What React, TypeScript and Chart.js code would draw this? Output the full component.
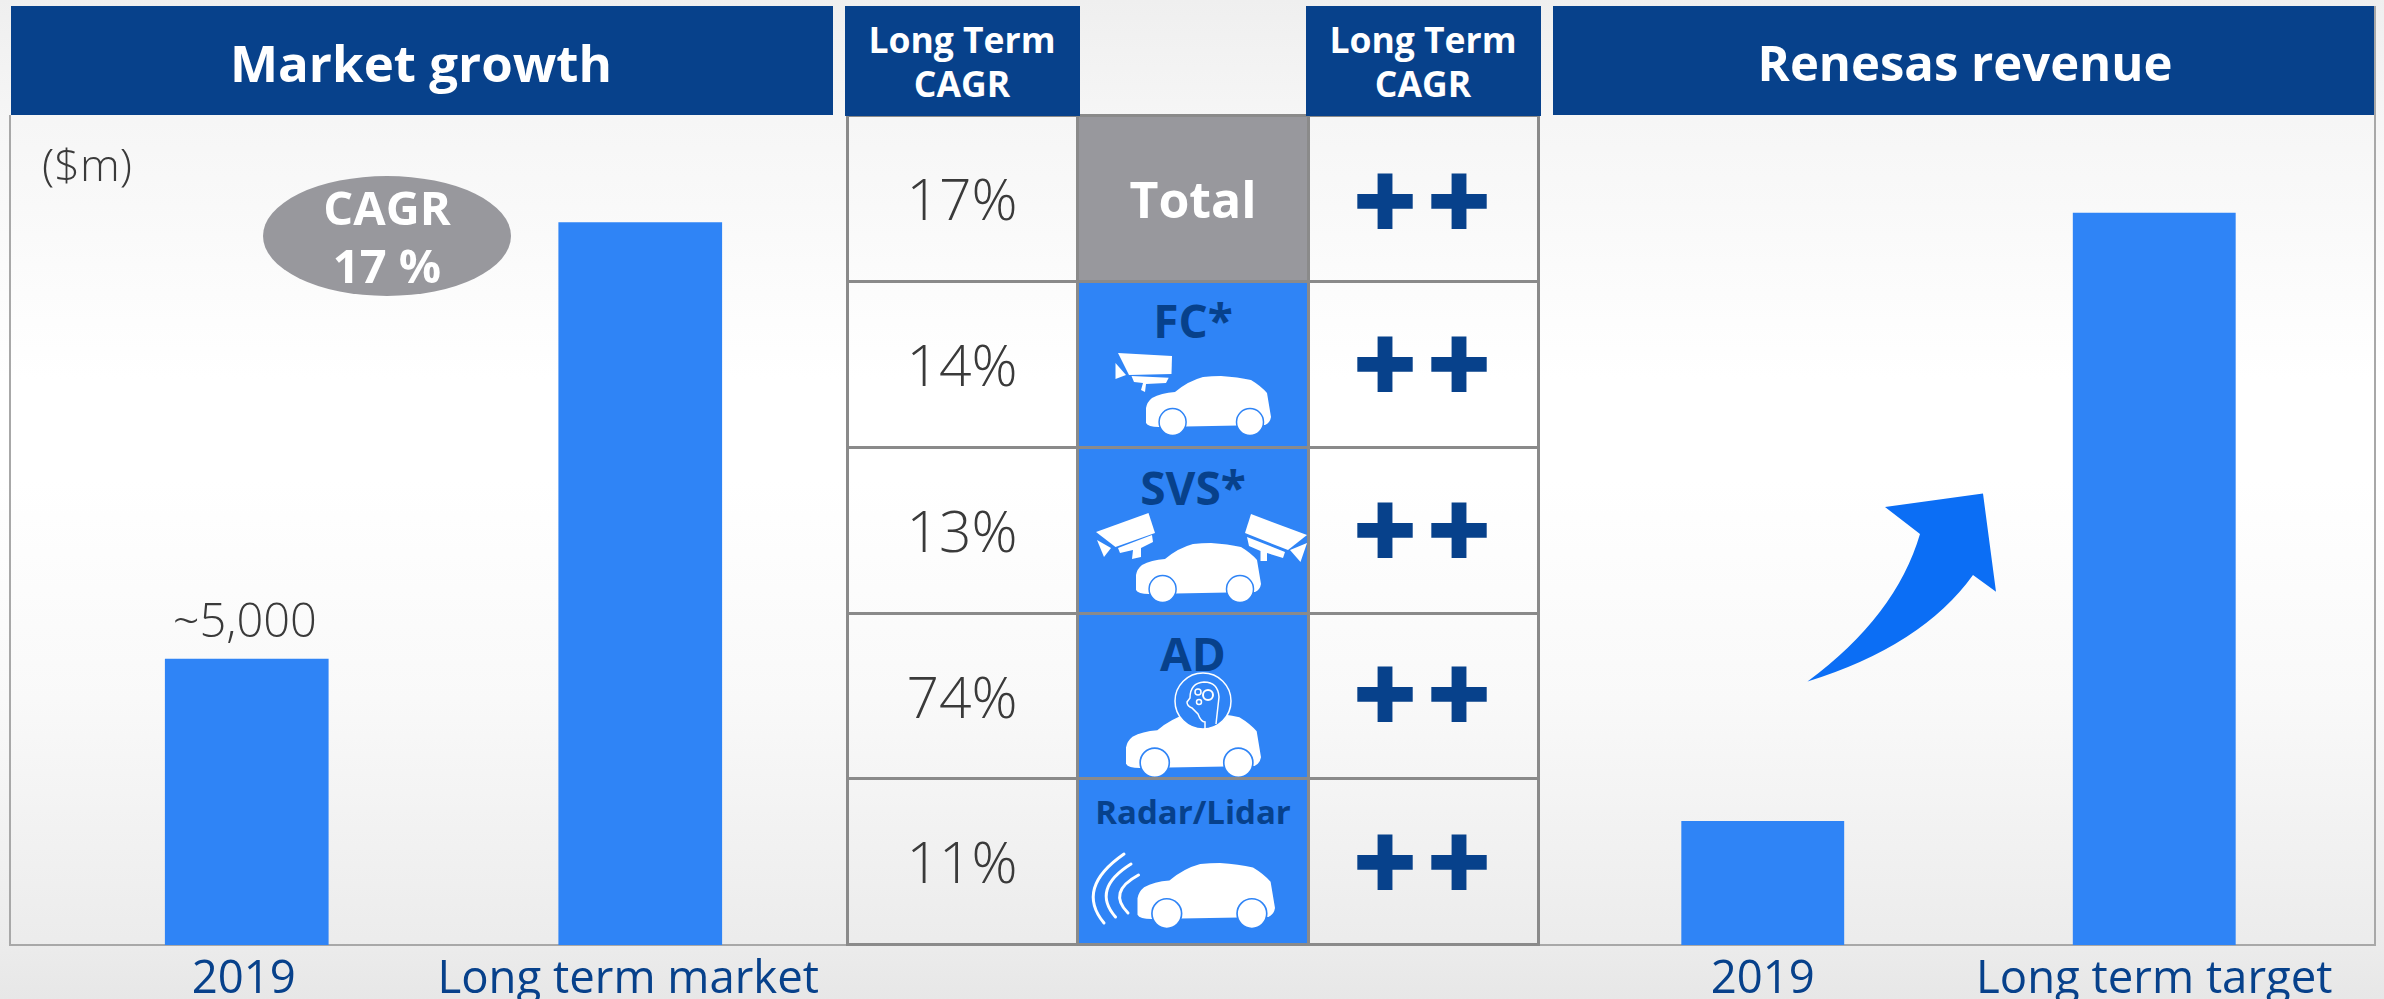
import React, { useEffect, useRef } from "react";
import { Chart, registerables } from "chart.js";

Chart.register(...registerables);

const marketCategories = ["2019", "Long term market"];
const marketValues = [5000, 12620];
const marketValueLabels = ["~5,000", ""];
const revenueCategories = ["2019", "Long term target"];
const revenueValues = [100, 590];
const marketCagr = ["17%", "14%", "13%", "74%", "11%"];
const segmentNames = ["Total", "FC*", "SVS*", "AD", "Radar/Lidar"];
const renesasMark = ["++", "++", "++", "++", "++"];

const NAVY = "#07418b";
const BLUE = "#2f84f6";
const GREY = "#98989d";
const LINE = "#8a8a8a";
const FONT = '"Open Sans", "Noto Sans", sans-serif';
const INK = "#3a3a3a";

const rowY = [115, 281, 447, 613, 778, 944];
const colX = [847, 1077, 1308, 1538];
const plusY = [203, 366, 532, 696, 864];

function BarChart({ left, width, labels, values, max, dataLabels, labelShift }: any) {
  const ref = useRef<HTMLCanvasElement>(null);
  useEffect(() => {
    const chart = new Chart(ref.current!, {
      type: "bar",
      data: {
        labels,
        datasets: [
          { data: values, backgroundColor: BLUE, barPercentage: 0.416, categoryPercentage: 1, borderWidth: 0 },
        ],
      },
      options: {
        animation: false,
        responsive: false,
        layout: { padding: 0 },
        plugins: { legend: { display: false }, tooltip: { enabled: false } },
        scales: {
          x: {
            grid: { display: false },
            border: { display: false },
            afterFit: (s: any) => { s.height = 54; },
            ticks: {
              autoSkip: false, maxRotation: 0, minRotation: 0, padding: 0, color: NAVY,
              font: { family: FONT, size: 45.5, weight: "400" },
            },
          },
          y: { display: false, min: 0, max },
        },
      },
      plugins: [
        {
          id: "labelNudge",
          beforeDraw(c: any) {
            if (!labelShift) return;
            c.scales.x.getLabelItems().forEach((item: any, i: number) => {
              const t = item.options.translation;
              if (!item.__moved) {
                item.options.translation = [t[0] + labelShift[i], t[1]];
                item.__moved = true;
              }
            });
          },
        },
        {
          id: "valueLabels",
          afterDatasetsDraw(c: any) {
            if (!dataLabels) return;
            const ctx = c.ctx;
            const meta = c.getDatasetMeta(0);
            ctx.save();
            ctx.fillStyle = INK;
            ctx.font = `350 47px ${FONT}`;
            ctx.textAlign = "center";
            ctx.textBaseline = "alphabetic";
            meta.data.forEach((bar: any, i: number) => {
              if (dataLabels[i]) ctx.fillText(dataLabels[i], bar.x - 2, bar.y - 22);
            });
            ctx.restore();
          },
        },
      ],
    } as any);
    return () => chart.destroy();
  }, []);
  return <canvas ref={ref} width={width} height={883} style={{ position: "absolute", left, top: 116, width, height: 883 }} />;
}

function T({ x, y, size, weight = 400, color = INK, children, spacing }: any) {
  return (
    <div
      style={{
        position: "absolute", left: x, top: y, transform: "translate(-50%,-50%)", fontFamily: FONT,
        fontSize: size, fontWeight: weight, color, lineHeight: 1, whiteSpace: "nowrap", letterSpacing: spacing,
      }}
    >
      {children}
    </div>
  );
}

function Box({ x, y, w, h, bg }: any) {
  return <div style={{ position: "absolute", left: x, top: y, width: w, height: h, background: bg }} />;
}

const carPath =
  "M0 47 L0 32 Q1 26 6 22 Q15 17 29 16 Q42 5 57 1 Q66 0 75 0 Q92 1 105 4 Q115 10 121 17 L125 41 Q124 47 119 49 L13 51 Q2 51 0 47 Z";

function Car({ x, y, s = 1 }: any) {
  return (
    <g transform={`translate(${x} ${y}) scale(${s})`}>
      <path d={carPath} fill="#fff" />
      <circle cx={26.6} cy={46} r={13.5} fill="#fff" stroke={BLUE} strokeWidth={1.5} />
      <circle cx={104} cy={46} r={13.5} fill="#fff" stroke={BLUE} strokeWidth={1.5} />
    </g>
  );
}

function Poly({ p }: any) {
  return <polygon points={p} fill="#fff" />;
}

function Icons() {
  return (
    <svg width={2384} height={999} style={{ position: "absolute", left: 0, top: 0 }}>
      <Poly p="1118,353 1172,356 1171.5,374 1129,375" />
      <Poly p="1115.5,363 1126,375 1115.5,379" />
      <Poly p="1131.5,376 1168.7,377.7 1166,383 1146,384 1145,392 1141,390 1143,383 1134,382" />
      <Car x={1146} y={376} />

      <Poly p="1096,532 1148.5,513 1155,533 1115.5,547" />
      <Poly p="1097,540 1111,548 1104,557" />
      <Poly p="1118,548 1152,535 1153,542 1141,548 1141,557 1132,559 1133,550 1120,553" />
      <Poly p="1251,514 1307,535 1288,550 1245,533" />
      <Poly p="1307,543 1290,550 1300.5,562" />
      <Poly p="1247,537 1285,552 1283,558 1267,553 1267,561 1260.5,561 1260.5,551 1249,546" />
      <Car x={1136} y={543} />

      <Car x={1126} y={713} s={1.08} />
      <ellipse cx={1203} cy={701} rx={28} ry={28} fill={BLUE} stroke="#fff" strokeWidth={1.5} />
      <path
        d="M1205 729 L1205 722 Q1201 722 1198 714 L1192 708 Q1187 706 1187 702 L1190 698 Q1190 683 1204 682 Q1218 682 1219 697 L1216 724"
        fill="none" stroke="#fff" strokeWidth={1.5}
      />
      <circle cx={1208} cy={695} r={5} fill="none" stroke="#fff" strokeWidth={2} />
      <circle cx={1198} cy={692} r={3} fill="none" stroke="#fff" strokeWidth={1.5} />
      <circle cx={1199} cy={702} r={2.5} fill="none" stroke="#fff" strokeWidth={1.5} />

      <Car x={1137.5} y={863} s={1.1} />
      <g fill="none" stroke="#fff" strokeWidth={3} strokeLinecap="round">
        <path d="M1124 854 Q1075 888 1104 923" />
        <path d="M1131 864 Q1091 889 1115.5 917" />
        <path d="M1138.5 875 Q1107 892 1128 913" />
      </g>

      <path
        d="M1807.5 681.5 Q1896 616 1920 534 L1885 507 L1983 493.6 L1996 591.7 L1973 575 Q1922 646 1807.5 681.5 Z"
        fill="#0b6ef5"
      />
    </svg>
  );
}

export default function App() {
  return (
    <div
      style={{
        position: "fixed", left: 0, top: 0, width: 2384, height: 999, overflow: "hidden",
        background:
          "linear-gradient(180deg,#efefef 0%,#f6f6f6 12%,#ffffff 38%,#ffffff 48%,#f9f9f9 70%,#ececec 94%,#e7e7e7 100%)",
      }}
    >
      {/* panel frame */}
      <Box x={9} y={115} w={2} h={831} bg="#a8a8a8" />
      <Box x={2374} y={6} w={2} h={940} bg="#a8a8a8" />
      <Box x={9} y={944} w={2367} h={2} bg="#a8a8a8" />

      {/* centre table fills */}
      <Box x={colX[1]} y={rowY[0]} w={colX[2] - colX[1]} h={rowY[1] - rowY[0]} bg={GREY} />
      <Box x={colX[1]} y={rowY[1]} w={colX[2] - colX[1]} h={rowY[5] - rowY[1]} bg={BLUE} />
      <Icons />
      {rowY.map((y) => <Box key={y} x={colX[0] - 1} y={y - 1} w={colX[3] - colX[0] + 3} h={3} bg={LINE} />)}
      {colX.map((x) => <Box key={x} x={x - 1} y={rowY[0]} w={3} h={rowY[5] - rowY[0] + 2} bg={LINE} />)}

      {/* headers */}
      <Box x={11} y={6} w={822} h={109} bg={NAVY} />
      <Box x={845} y={6} w={235} h={110} bg={NAVY} />
      <Box x={1306} y={6} w={235} h={110} bg={NAVY} />
      <Box x={1553} y={6} w={821} h={109} bg={NAVY} />
      <T x={421} y={62} size={51} weight={700} color="#fff">Market growth</T>
      <T x={1965} y={62} size={49} weight={700} color="#fff">Renesas revenue</T>
      <T x={962} y={40} size={35.5} weight={700} color="#fff">Long Term</T>
      <T x={962} y={84} size={35.5} weight={700} color="#fff">CAGR</T>
      <T x={1423} y={40} size={35.5} weight={700} color="#fff">Long Term</T>
      <T x={1423} y={84} size={35.5} weight={700} color="#fff">CAGR</T>

      {/* charts */}
      <BarChart left={50} width={787} labels={marketCategories} values={marketValues} max={14476} dataLabels={marketValueLabels} labelShift={[-3, -12]} />
      <BarChart left={1567} width={783} labels={revenueCategories} values={revenueValues} max={668} />

      <T x={87} y={163} size={45} weight={350}>($m)</T>
      <div style={{ position: "absolute", left: 263, top: 176, width: 248, height: 120, borderRadius: "50%", background: GREY }} />
      <T x={387} y={207} size={47} weight={700} color="#fff">CAGR</T>
      <T x={387} y={265} size={47} weight={700} color="#fff">17 %</T>

      {/* centre table text */}
      {marketCagr.map((v, i) => (
        <T key={i} x={962} y={(rowY[i] + rowY[i + 1]) / 2} size={57} weight={350}>{v}</T>
      ))}
      <T x={1193} y={199} size={50} weight={700} color="#fff">{segmentNames[0]}</T>
      <T x={1193} y={320} size={46} weight={700} color={NAVY}>{segmentNames[1]}</T>
      <T x={1193} y={487} size={46} weight={700} color={NAVY}>{segmentNames[2]}</T>
      <T x={1193} y={653} size={46} weight={700} color={NAVY}>{segmentNames[3]}</T>
      <T x={1193} y={811} size={33} weight={700} color={NAVY}>{segmentNames[4]}</T>

      {renesasMark.map((m, i) => (
        <React.Fragment key={i}>
          {m.split("").map((_, j) => (
            <div
              key={j}
              style={{
                position: "absolute", left: 1385 + j * 74, top: plusY[i], transform: "translate(-50%,-50%)",
                fontFamily: '"DejaVu Sans"', fontSize: 76, lineHeight: 1, color: NAVY,
              }}
            >
              ✚
            </div>
          ))}
        </React.Fragment>
      ))}
    </div>
  );
}
